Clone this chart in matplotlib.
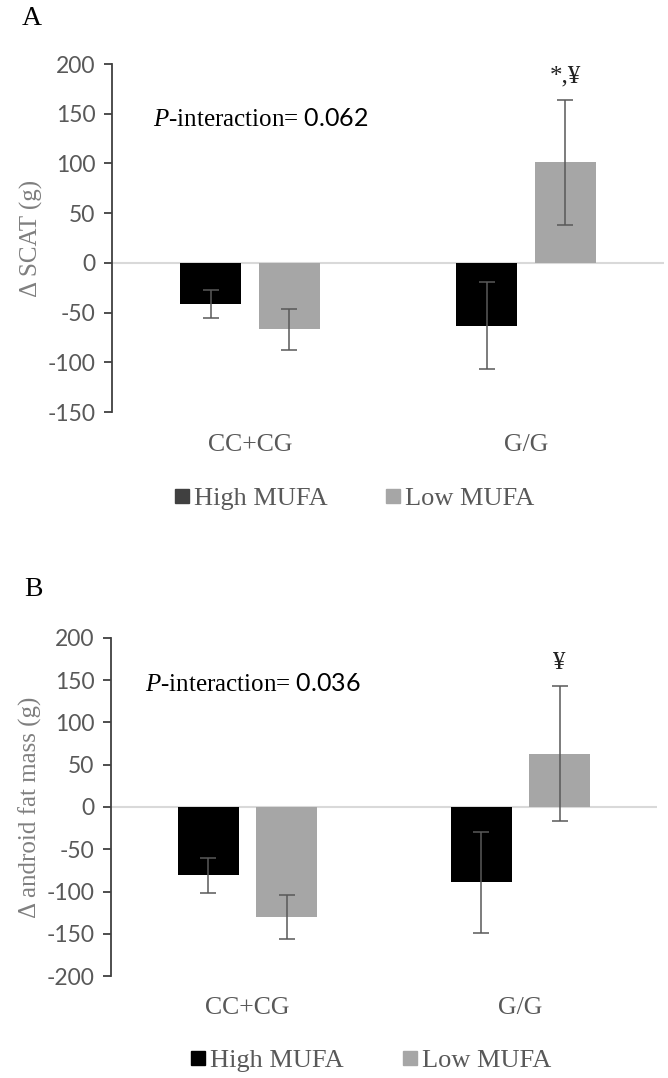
import numpy as np
import matplotlib

matplotlib.use('Agg')
import matplotlib.pyplot as plt
from matplotlib.lines import Line2D
from matplotlib.transforms import blended_transform_factory

# chart data
genotypes = ['CC+CG', 'G/G']
groups = ['High MUFA', 'Low MUFA']

scat_high = [-41, -63]
scat_high_err = [14, 44]
scat_low = [-67, 101]
scat_low_err = [21, 63]

android_high = [-81, -89]
android_high_err = [21, 60]
android_low = [-130, 63]
android_low_err = [26, 80]

plt.rcParams['axes.unicode_minus'] = False
plt.rcParams['mathtext.fontset'] = 'custom'
plt.rcParams['mathtext.rm'] = 'Liberation Serif'
plt.rcParams['mathtext.it'] = 'Liberation Serif:italic'
plt.rcParams['mathtext.sf'] = 'Lato'

SERIF = 'Liberation Serif'
SANS = 'Lato'
HIGH_COLOR = '#000000'
LOW_COLOR = '#a6a6a6'
GREY_TEXT = '#595959'


# draw one bar panel
def plot_panel(ax, high, high_err, low, low_err, ylim, ylabel, p_text, p_pos, marks):
    x = np.arange(len(genotypes))
    width = 0.222
    offset = 0.143

    ax.axhline(0, color='#d9d9d9', lw=1.5, zorder=1)
    ax.bar(x - offset, high, width, color=HIGH_COLOR, zorder=2)
    ax.bar(x + offset, low, width, color=LOW_COLOR, zorder=2)
    ax.errorbar(x - offset, high, yerr=high_err, fmt='none', ecolor='#595959',
                elinewidth=1.1, capsize=6, capthick=1.1, zorder=3)
    ax.errorbar(x + offset, low, yerr=low_err, fmt='none', ecolor='#595959',
                elinewidth=1.1, capsize=6, capthick=1.1, zorder=3)

    ax.set_xlim(-0.5, len(genotypes) - 0.5)
    ax.set_ylim(*ylim)
    ax.set_yticks(np.arange(ylim[0], ylim[1] + 1, 50))
    ax.set_xticks([])
    for side in ['top', 'right', 'bottom']:
        ax.spines[side].set_visible(False)
    ax.spines['left'].set_color('#404040')
    ax.spines['left'].set_linewidth(1.3)
    ax.tick_params(axis='y', direction='out', length=6, width=1.3, color='#404040',
                   labelsize=16.5, labelcolor=GREY_TEXT, pad=6)
    for lab in ax.get_yticklabels():
        lab.set_fontfamily(SANS)

    ax.set_ylabel(ylabel, fontsize=18, color='#7f7f7f', family=SERIF, labelpad=3)

    # category labels under the plot area
    trans = blended_transform_factory(ax.transData, ax.transAxes)
    for xi, name in zip(x, genotypes):
        ax.text(xi, -0.095, name, transform=trans, ha='center', va='center',
                fontsize=18.5, color=GREY_TEXT, family=SERIF)

    ax.text(p_pos[0], p_pos[1], p_text, transform=ax.transAxes, ha='left', va='center',
            fontsize=18, family=SERIF, color='black')

    for xi, yi, m in marks:
        ax.text(x[xi] + offset, yi, m, ha='center', va='center', fontsize=18,
                family=SERIF, color='#222222')


fig = plt.figure(figsize=(6.68, 10.78), dpi=100)
ax_a = fig.add_axes([0.1677, 0.6178, 0.8263, 0.3228])
ax_b = fig.add_axes([0.1662, 0.0946, 0.8173, 0.3136])

plot_panel(ax_a, scat_high, scat_high_err, scat_low, scat_low_err, (-150, 200),
           '\u0394 SCAT (g)', r'$\mathit{P}$-interaction= $\mathsf{0.062}$', (0.075, 0.838),
           [(1, 188, '*,\u00a5')])
plot_panel(ax_b, android_high, android_high_err, android_low, android_low_err, (-200, 200),
           '\u0394 android fat mass (g)', r'$\mathit{P}$-interaction= $\mathsf{0.036}$', (0.062, 0.86),
           [(1, 170, '\u00a5')])

# legends below each panel
for ax, y, x_c, high_marker in [(ax_a, 0.538, 0.53, '#404040'), (ax_b, 0.016, 0.555, HIGH_COLOR)]:
    handles = [Line2D([], [], marker='s', ls='none', markersize=10, color=high_marker),
               Line2D([], [], marker='s', ls='none', markersize=10, color=LOW_COLOR)]
    leg = ax.legend(handles, groups, loc='center', bbox_to_anchor=(x_c, y),
                    bbox_transform=fig.transFigure, ncol=2, frameon=False,
                    handlelength=0.6, handletextpad=0.15, columnspacing=2.2,
                    prop={'family': SERIF, 'size': 19})
    for t in leg.get_texts():
        t.set_color(GREY_TEXT)

fig.text(0.048, 0.983, 'A', fontsize=20, family=SERIF, ha='center', va='center')
fig.text(0.05, 0.453, 'B', fontsize=20, family=SERIF, ha='center', va='center')

fig.savefig('out.png', dpi=100)
